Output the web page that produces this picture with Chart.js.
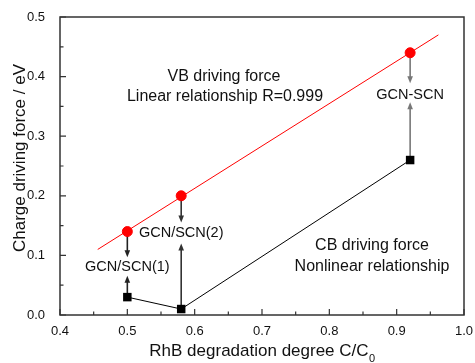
<!DOCTYPE html>
<html>
<head>
<meta charset="utf-8">
<script src="https://cdn.jsdelivr.net/npm/chart.js@4.4.0/dist/chart.umd.min.js"></script>
<style>
  html, body { margin: 0; padding: 0; background: #fff; }
  #wrap { width: 475px; height: 363px; }
</style>
</head>
<body>
<div id="wrap"><canvas id="c" width="475" height="363"></canvas></div>
<script>
// данные
const degradation = [0.5, 0.58, 0.92];
const vbForce = [0.14, 0.2, 0.44];
const cbForce = [0.03, 0.01, 0.26];
const fitX = [0.456, 0.962];
const fitY = [0.11, 0.47];
const sampleNames = ['GCN/SCN(1)', 'GCN/SCN(2)', 'GCN-SCN'];
// подписи и стрелки в координатах данных
const labelY = [0.08, 0.137, 0.369];
const labelX = [0.5, 0.58, 0.92];
const arrowDownTo = [0.097, 0.155, 0.389];
const arrowUpTo = [0.066, 0.12, 0.357];
const arrowColors = ['#222', '#333', '#777'];
const xTicks = [0.4, 0.5, 0.6, 0.7, 0.8, 0.9, 1.0];
const yTicks = [0.0, 0.1, 0.2, 0.3, 0.4, 0.5];

const FONT = '"Liberation Sans", Arial, sans-serif';

function arrow(ctx, x, y1, y2, color) {
    ctx.save();
    ctx.strokeStyle = color; ctx.fillStyle = color; ctx.lineWidth = 1.6;
    const dir = y2 > y1 ? 1 : -1;
    ctx.beginPath(); ctx.moveTo(x, y1); ctx.lineTo(x, y2 - dir * 6); ctx.stroke();
    ctx.beginPath();
    ctx.moveTo(x, y2); ctx.lineTo(x - 2.8, y2 - dir * 7); ctx.lineTo(x + 2.8, y2 - dir * 7);
    ctx.closePath(); ctx.fill();
    ctx.restore();
}

const decor = {
    id: 'decor',
    beforeDatasetsDraw(chart) {
        const { ctx, scales: { x, y } } = chart;
        degradation.forEach((d, i) => {
            const px = x.getPixelForValue(d);
            arrow(ctx, px, y.getPixelForValue(vbForce[i]), y.getPixelForValue(arrowDownTo[i]), arrowColors[i]);
            arrow(ctx, px, y.getPixelForValue(cbForce[i]), y.getPixelForValue(arrowUpTo[i]), arrowColors[i]);
        });
    },
    afterDatasetsDraw(chart) {
        const { ctx, chartArea: a, scales: { x, y } } = chart;
        ctx.save();
        // рамка
        ctx.strokeStyle = '#333'; ctx.lineWidth = 1.5;
        ctx.strokeRect(a.left, a.top, a.right - a.left, a.bottom - a.top);
        // внутренние тики
        ctx.lineWidth = 1.2;
        ctx.beginPath();
        xTicks.forEach((v, i) => {
            const px = x.getPixelForValue(v);
            ctx.moveTo(px, a.bottom); ctx.lineTo(px, a.bottom - 6);
            if (i < xTicks.length - 1) {
                const m = x.getPixelForValue(v + 0.05);
                ctx.moveTo(m, a.bottom); ctx.lineTo(m, a.bottom - 3.5);
            }
        });
        yTicks.forEach((v, i) => {
            const py = y.getPixelForValue(v);
            ctx.moveTo(a.left, py); ctx.lineTo(a.left + 6, py);
            if (i < yTicks.length - 1) {
                const m = y.getPixelForValue(v + 0.05);
                ctx.moveTo(a.left, m); ctx.lineTo(a.left + 3.5, m);
            }
        });
        ctx.stroke();

        // подписи образцов
        ctx.fillStyle = '#111';
        ctx.textAlign = 'center'; ctx.textBaseline = 'middle';
        ctx.font = '14.5px ' + FONT;
        sampleNames.forEach((n, i) => {
            ctx.fillText(n, x.getPixelForValue(labelX[i]), y.getPixelForValue(labelY[i]));
        });
        ctx.font = '16px ' + FONT;
        ctx.fillText('VB driving force', 224, 77);
        ctx.fillText('Linear relationship R=0.999', 225, 97);
        ctx.fillText('CB driving force', 372, 246);
        ctx.fillText('Nonlinear relationship', 372, 267);

        // заголовки осей
        ctx.font = '17px ' + FONT;
        const main = 'RhB degradation degree C/C';
        const w = ctx.measureText(main).width;
        ctx.font = '11px ' + FONT;
        const ws = ctx.measureText('0').width;
        const sx = 262 - (w + ws) / 2;
        ctx.textAlign = 'left';
        ctx.font = '17px ' + FONT;
        ctx.fillText(main, sx, 351);
        ctx.font = '11px ' + FONT;
        ctx.fillText('0', sx + w + 0.5, 359);

        ctx.translate(20, 158);
        ctx.rotate(-Math.PI / 2);
        ctx.textAlign = 'center';
        ctx.font = '17px ' + FONT;
        ctx.fillText('Charge driving force / eV', 0, 0);
        ctx.restore();
    }
};

new Chart(document.getElementById('c'), {
    type: 'scatter',
    data: {
        datasets: [
            {
                data: fitX.map((v, i) => ({ x: v, y: fitY[i] })),
                showLine: true, borderColor: '#ff0000', borderWidth: 1, pointRadius: 0
            },
            {
                data: degradation.map((v, i) => ({ x: v, y: cbForce[i] })),
                showLine: true, borderColor: '#000', borderWidth: 1,
                pointStyle: 'rect', pointRadius: 6, backgroundColor: '#000', pointBorderWidth: 0
            },
            {
                data: degradation.map((v, i) => ({ x: v, y: vbForce[i] })),
                showLine: false, pointRadius: 5, backgroundColor: '#ff0000', borderColor: '#ff0000'
            }
        ]
    },
    options: {
        responsive: false, animation: false,
        layout: { padding: { top: 17, right: 11, left: 0, bottom: 0 } },
        plugins: { legend: { display: false }, tooltip: { enabled: false } },
        scales: {
            x: {
                type: 'linear', min: 0.4, max: 1.0,
                afterBuildTicks: s => { s.ticks = xTicks.map(v => ({ value: v })); },
                afterFit: s => { s.height = 48; },
                grid: { display: false }, border: { display: false },
                ticks: { padding: 1, color: '#111', font: { family: FONT, size: 13 }, callback: v => v.toFixed(1) }
            },
            y: {
                min: 0, max: 0.5,
                afterBuildTicks: s => { s.ticks = yTicks.map(v => ({ value: v })); },
                afterFit: s => { s.width = 60; },
                grid: { display: false }, border: { display: false },
                ticks: { padding: 7, color: '#111', font: { family: FONT, size: 13 }, callback: v => v.toFixed(1) }
            }
        }
    },
    plugins: [decor]
});
</script>
</body>
</html>
